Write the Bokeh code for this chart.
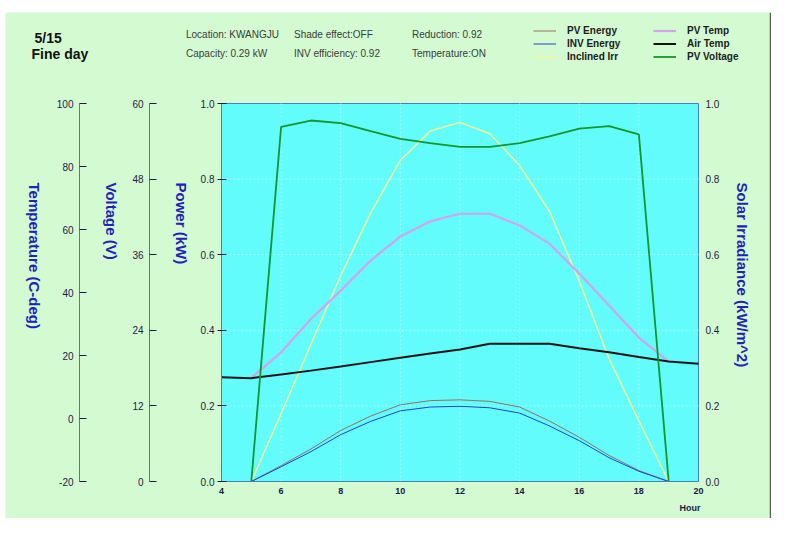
import math
from bokeh.plotting import figure
from bokeh.models import (Range1d, LinearAxis, FixedTicker, Label, Legend,
                          LegendItem, PrintfTickFormatter, BoxAnnotation, Span)
from bokeh.embed import file_html
from bokeh.resources import INLINE

# ---------------- data ----------------
hours = [5, 6, 7, 8, 9, 10, 11, 12, 13, 14, 15, 16, 17, 18, 19]
air_hours = [4, 5, 6, 7, 8, 9, 10, 11, 12, 13, 14, 15, 16, 17, 18, 19, 20]
pv_energy = [0, 0.042, 0.086, 0.135, 0.173, 0.203, 0.214, 0.216, 0.212, 0.197, 0.160, 0.117, 0.069, 0.029, 0]
inv_energy = [0, 0.039, 0.079, 0.124, 0.159, 0.187, 0.197, 0.199, 0.195, 0.181, 0.147, 0.108, 0.063, 0.027, 0]
inclined_irr = [0, 0.18, 0.363, 0.545, 0.71, 0.85, 0.927, 0.95, 0.92, 0.836, 0.715, 0.53, 0.325, 0.16, 0]
pv_temp = [12.9, 21.0, 31.6, 40.6, 50.1, 57.8, 62.6, 65.0, 65.0, 61.3, 55.5, 46.0, 35.9, 25.7, 18.1]
air_temp = [13.1, 12.8, 14.0, 15.2, 16.5, 17.9, 19.3, 20.6, 21.9, 23.7, 23.7, 23.7, 22.3, 21.0, 19.5, 18.1, 17.4]
pv_voltage = [0, 56.3, 57.3, 56.9, 55.6, 54.4, 53.7, 53.1, 53.1, 53.7, 54.8, 56.0, 56.4, 55.1, 0]

hour_ticks = [4, 6, 8, 10, 12, 14, 16, 18, 20]
power_ticks = [0, 0.2, 0.4, 0.6, 0.8, 1.0]
volt_ticks = [0, 12, 24, 36, 48, 60]
temp_ticks = [-20, 0, 20, 40, 60, 80, 100]

header_left = ["5/15", "Fine day"]
info_texts = ["Location: KWANGJU", "Shade effect:OFF", "Reduction: 0.92",
              "Capacity: 0.29 kW", "INV efficiency: 0.92", "Temperature:ON"]

# ---------------- style ----------------
FONT = "Liberation Sans"
GREEN_BG = "#d4fad2"
CYAN = "#62fcfc"
FRAME = "#4a7cc8"
AXIS = "#5a7898"
TICKLBL = "#1a1a48"
TITLE = "#2222bb"
GRID = "#a8ffff"

# page-pixel -> data helpers (plot box: x 221..698 <-> 4..20, y 481..103 <-> 0..1)
def hx(px):
    return 4 + (px - 221) / (477 / 16)

def vy(py):
    return (481 - py) / 378

# figure occupies page x 5..771, y 12..518 (green panel); the frame is the whole figure
p = figure(width=766, height=506,
           x_range=Range1d(hx(5), hx(771)), y_range=Range1d(vy(518), vy(12)),
           output_backend="svg", toolbar_location=None,
           min_border_left=0, min_border_right=0, min_border_top=0, min_border_bottom=0,
           background_fill_color=GREEN_BG, border_fill_color=GREEN_BG,
           outline_line_color=None)
p.title.visible = False
p.margin = (12, 0, 0, 5)
p.extra_y_ranges = {
    "temp": Range1d(-20 + 120 * vy(518), -20 + 120 * vy(12)),
    "volt": Range1d(60 * vy(518), 60 * vy(12)),
}
p.grid.visible = False

# cyan plot box
p.add_layout(BoxAnnotation(left=4, right=20, bottom=0, top=1, fill_color=CYAN, fill_alpha=1.0,
                           line_color=FRAME, line_alpha=1.0, line_width=1, level="underlay"))
# dark window edge on the right of the green panel
p.add_layout(Span(location=hx(770), dimension="height", line_color="#5a5a5a", line_width=1.5))

# grid lines from the tick lists
inner_h = hour_ticks[1:-1]
inner_p = power_ticks[1:-1]
p.segment(x0=inner_h, y0=[0] * len(inner_h), x1=inner_h, y1=[1] * len(inner_h),
          line_color=GRID, line_width=1, line_dash="2 2")
p.segment(x0=[4] * len(inner_p), y0=inner_p, x1=[20] * len(inner_p), y1=inner_p,
          line_color=GRID, line_width=1, line_dash="2 2")

def style_axis(ax):
    ax.major_label_text_font = FONT
    ax.major_label_text_font_size = "10px"
    ax.major_label_text_color = TICKLBL
    ax.minor_tick_in = 0
    ax.minor_tick_out = 0
    ax.major_tick_line_color = TICKLBL

# x axis
xax = p.xaxis[0]
xax.fixed_location = 0
xax.bounds = (4, 20)
xax.ticker = FixedTicker(ticks=hour_ticks)
style_axis(xax)
xax.major_tick_in = 0
xax.major_tick_out = 0
xax.major_label_standoff = 6
xax.major_label_text_font_style = "bold"
xax.major_label_text_font_size = "9px"
xax.axis_line_color = FRAME

# power axis
yax = p.yaxis[0]
yax.fixed_location = 4
yax.bounds = (0, 1)
yax.ticker = FixedTicker(ticks=power_ticks)
yax.formatter = PrintfTickFormatter(format="%.1f")
style_axis(yax)
yax.major_tick_out = 4
yax.major_tick_in = 5
yax.major_label_standoff = 3
yax.axis_line_color = FRAME

# voltage axis
vax = LinearAxis(y_range_name="volt", ticker=FixedTicker(ticks=volt_ticks),
                 formatter=PrintfTickFormatter(format="%d"),
                 fixed_location=hx(149), bounds=(0, 60))
style_axis(vax)
vax.major_tick_out = 0
vax.major_tick_in = 7
vax.major_label_standoff = 6
vax.axis_line_color = AXIS
p.add_layout(vax, "left")

# temperature axis
tax = LinearAxis(y_range_name="temp", ticker=FixedTicker(ticks=temp_ticks),
                 formatter=PrintfTickFormatter(format="%d"),
                 fixed_location=hx(79), bounds=(-20, 100))
style_axis(tax)
tax.major_tick_out = 0
tax.major_tick_in = 7
tax.major_label_standoff = 6
tax.axis_line_color = AXIS
p.add_layout(tax, "left")

# right axis (solar irradiance)
rax = LinearAxis(ticker=FixedTicker(ticks=power_ticks), formatter=PrintfTickFormatter(format="%.1f"),
                 fixed_location=20, bounds=(0, 1))
style_axis(rax)
rax.major_tick_out = 0
rax.major_tick_in = 0
rax.major_label_standoff = 7
rax.axis_line_color = None
p.add_layout(rax, "right")

# ---------------- lines ----------------
r_irr = p.line(hours, inclined_irr, line_color="#f2f896", line_width=1.5)
r_pvt = p.line(hours, pv_temp, y_range_name="temp", line_color="#d4a2ee", line_width=2.2)
r_air = p.line(air_hours, air_temp, y_range_name="temp", line_color="#141414", line_width=2)
r_pve = p.line(hours, pv_energy, line_color="#9a6e64", line_width=1)
r_inv = p.line(hours, inv_energy, line_color="#2244cc", line_width=1)
r_pvv = p.line(hours, pv_voltage, y_range_name="volt", line_color="#14962a", line_width=1.8)

# ---------------- legends ----------------
def make_legend(items, loc):
    return Legend(items=items, location=loc, orientation="vertical",
                  spacing=0, padding=0, margin=0, glyph_width=23, glyph_height=13,
                  label_height=13, label_standoff=11,
                  label_text_font=FONT, label_text_font_size="10px",
                  label_text_font_style="bold", label_text_color="#202020",
                  background_fill_alpha=0, border_line_color=None)

# location = bottom-left corner in pixels from the frame's bottom-left
leg1 = make_legend([LegendItem(label="PV Energy", renderers=[r_pve]),
                    LegendItem(label="INV Energy", renderers=[r_inv]),
                    LegendItem(label="Inclined Irr", renderers=[r_irr])], (528, 455))
leg2 = make_legend([LegendItem(label="PV Temp", renderers=[r_pvt]),
                    LegendItem(label="Air Temp", renderers=[r_air]),
                    LegendItem(label="PV Voltage", renderers=[r_pvv])], (648, 455))
p.add_layout(leg1)
p.add_layout(leg2)

# ---------------- texts ----------------
def add_label(text, px, py, size, bold=False, color="#111111", align="left",
              baseline="alphabetic", angle=0.0):
    p.add_layout(Label(x=hx(px), y=vy(py), text=text, text_font=FONT,
                       text_font_size=size, text_font_style="bold" if bold else "normal",
                       text_color=color, text_align=align, text_baseline=baseline,
                       angle=angle))

add_label(header_left[0], 34, 37.7, "14px", bold=True)
add_label(header_left[1], 31, 53.3, "14px", bold=True)
info_pos = [(185.5, 33.5), (293.5, 33.5), (411.5, 33.5),
            (185.5, 52.5), (293.5, 52.5), (411.5, 52.5)]
for t, (px, py) in zip(info_texts, info_pos):
    add_label(t, px, py, "10px", color="#3a3a3a")

add_label("Temperature (C-deg)", 34, 182, "15px", bold=True, color=TITLE,
          baseline="middle", angle=-math.pi / 2)
add_label("Voltage (V)", 111, 182, "15px", bold=True, color=TITLE,
          baseline="middle", angle=-math.pi / 2)
add_label("Power (kW)", 181, 182, "15px", bold=True, color=TITLE,
          baseline="middle", angle=-math.pi / 2)
add_label("Solar Irradiance (kW/m^2)", 742, 182, "15px", bold=True, color=TITLE,
          baseline="middle", angle=-math.pi / 2)
add_label("Hour", 700, 507, "9px", bold=True, color=TICKLBL, align="right")

open("out.html", "w").write(file_html(p, INLINE))
